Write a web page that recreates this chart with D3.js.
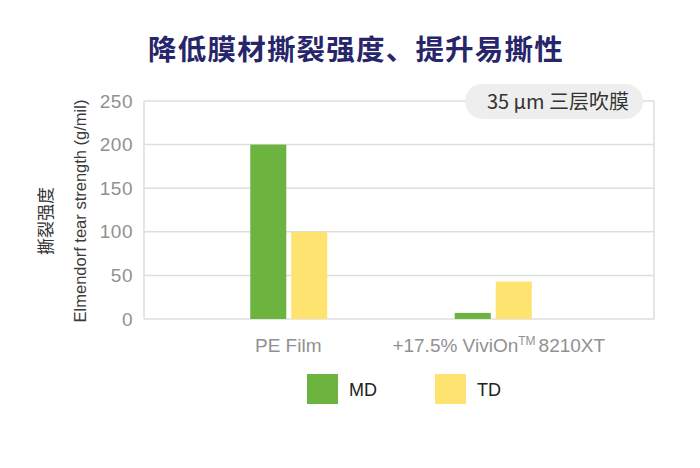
<!DOCTYPE html>
<html>
<head>
<meta charset="utf-8">
<script src="https://cdn.jsdelivr.net/npm/d3@7"></script>
<style>
  body { margin: 0; background: #fff; }
  svg { display: block; }
</style>
</head>
<body>
<svg id="chart" width="700" height="468"></svg>
<script>
const categories = ["PE Film", "+17.5% ViviOn\u2122 8210XT"];
const seriesNames = ["MD", "TD"];
const mdValues = [200, 7];
const tdValues = [100, 43];
const yTicks = [0, 50, 100, 150, 200, 250];

const colors = { MD: "#6cb43f", TD: "#ffe370" };
const sans = "'Liberation Sans', Arial, sans-serif";
const cjk = "'Noto Sans CJK SC', sans-serif";

const svg = d3.select("#chart");
const plotLeft = 144, plotRight = 654, plotTop = 101, plotBottom = 319;

const y = d3.scaleLinear().domain([0, 250]).range([plotBottom, plotTop]);
// groups sit left of centre in the original, so the band range is narrower than the frame
const x = d3.scaleBand().domain(categories).range([186, 595]);
const xInner = d3.scaleBand().domain(seriesNames).range([-38, 39]).paddingInner(0.12);

// title
svg.append("text")
  .attr("x", 356).attr("y", 60)
  .attr("text-anchor", "middle")
  .style("font-family", cjk)
  .style("font-weight", 700)
  .style("font-size", "28.5px")
  .style("letter-spacing", "1.2px")
  .style("fill", "#28266a")
  .text("降低膜材撕裂强度、提升易撕性");

// grid
svg.append("g")
  .selectAll("line")
  .data(yTicks)
  .join("line")
  .attr("x1", plotLeft).attr("x2", plotRight)
  .attr("y1", d => y(d)).attr("y2", d => y(d))
  .attr("stroke", "#dedede").attr("stroke-width", 1.5);

svg.append("line")
  .attr("x1", plotLeft).attr("x2", plotLeft).attr("y1", plotTop).attr("y2", plotBottom)
  .attr("stroke", "#dedede").attr("stroke-width", 1.5);
svg.append("line")
  .attr("x1", plotRight).attr("x2", plotRight).attr("y1", plotTop).attr("y2", plotBottom)
  .attr("stroke", "#dedede").attr("stroke-width", 1.5);

// y axis labels
const yAxis = d3.axisLeft(y).tickValues(yTicks).tickSize(0).tickPadding(11);
const yG = svg.append("g").attr("transform", `translate(${plotLeft},0)`).call(yAxis);
yG.select(".domain").remove();
yG.selectAll("text")
  .style("font-family", sans)
  .style("font-size", "19px")
  .style("letter-spacing", "0.5px")
  .style("fill", "#919191");

// bars
const rows = categories.map((c, i) => ({ cat: c, MD: mdValues[i], TD: tdValues[i] }));
const groups = svg.append("g")
  .selectAll("g")
  .data(rows)
  .join("g")
  .attr("transform", d => `translate(${x(d.cat) + x.bandwidth() / 2},0)`);

groups.selectAll("rect")
  .data(d => seriesNames.map(s => ({ s, v: d[s] })))
  .join("rect")
  .attr("x", d => xInner(d.s))
  .attr("width", xInner.bandwidth())
  .attr("y", d => y(d.v))
  .attr("height", d => y(0) - y(d.v))
  .attr("fill", d => colors[d.s]);

// x axis labels
const xAxis = d3.axisBottom(x).tickSize(0).tickPadding(20);
const xG = svg.append("g").attr("transform", `translate(0,${plotBottom})`).call(xAxis);
xG.select(".domain").remove();
xG.selectAll("text")
  .style("font-family", sans)
  .style("font-size", "19px")
  .style("fill", "#919191")
  .attr("dx", (d, i) => i === 0 ? 0 : 6)
  .each(function (d) {
    // draw the trademark sign as a raised small "TM"
    const parts = d.split("\u2122");
    if (parts.length < 2) return;
    const t = d3.select(this).text(null);
    t.append("tspan").text(parts[0]);
    t.append("tspan").attr("dy", "-7").style("font-size", "12px").text("TM");
    t.append("tspan").attr("dy", "7").attr("dx", "3").text(parts[1].trim());
  });

// y axis title
const yTitle = svg.append("g");
yTitle.append("text")
  .attr("transform", "translate(52,221) rotate(-90)")
  .attr("text-anchor", "middle")
  .style("font-family", cjk)
  .style("font-size", "17px")
  .style("fill", "#333")
  .text("撕裂强度");
yTitle.append("text")
  .attr("transform", "translate(86,211) rotate(-90)")
  .attr("text-anchor", "middle")
  .style("font-family", sans)
  .style("font-size", "16.5px")
  .style("fill", "#3a3a3a")
  .text("Elmendorf tear strength (g/mil)");

// badge
svg.append("rect")
  .attr("x", 465).attr("y", 84)
  .attr("width", 178).attr("height", 35)
  .attr("rx", 17.5)
  .attr("fill", "#eeeeee");
svg.append("text")
  .attr("x", 558).attr("y", 108.5)
  .attr("text-anchor", "middle")
  .style("font-family", cjk)
  .style("font-size", "20px")
  .style("fill", "#333")
  .text("35 µm 三层吹膜");

// legend
const legendX = [307, 435];
const legend = svg.append("g")
  .selectAll("g")
  .data(seriesNames)
  .join("g")
  .attr("transform", (d, i) => `translate(${legendX[i]},374)`);
legend.append("rect")
  .attr("width", 31).attr("height", 30)
  .attr("fill", d => colors[d]);
legend.append("text")
  .attr("x", 42).attr("y", 21.5)
  .style("font-family", sans)
  .style("font-size", "18px")
  .style("fill", "#222")
  .text(d => d);
</script>
</body>
</html>
